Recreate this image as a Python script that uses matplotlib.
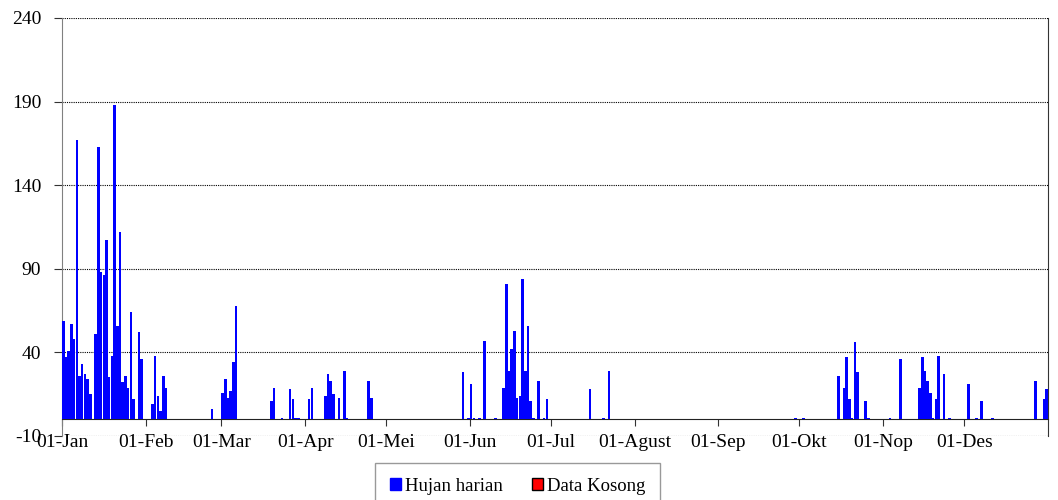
import matplotlib
matplotlib.use("Agg")
from matplotlib import pyplot as plt
from matplotlib.patches import Patch

plt.rcParams['font.family'] = ['Liberation Serif', 'DejaVu Serif']
plt.rcParams['axes.unicode_minus'] = False

# day of year (0 = 01-Jan) and daily rainfall (mm)
hari = [0, 1, 2, 3, 4, 5, 6, 7, 8, 9, 10, 12, 13, 14, 15, 16, 17, 18, 19, 20,
        21, 22, 23, 24, 25, 26, 28, 29,
        33, 34, 35, 36, 37, 38, 55, 59, 60, 61, 62, 63, 64, 77, 78, 81, 84, 85,
        86, 87, 91, 92, 97, 98, 99, 100, 102, 104, 105, 113, 114,
        148, 150, 151, 152, 154, 156, 160, 163, 164, 165, 166, 167, 168, 169,
        170, 171, 172, 173, 174, 176, 178, 179, 195, 200, 202,
        271, 274, 287, 289, 290, 291, 292, 293, 294, 297, 298, 306, 310, 317,
        318, 319, 320, 321, 322, 323, 324, 326, 328, 335, 338, 340, 344, 360,
        363, 364]
hujan = [59, 37, 41, 57, 48, 167, 26, 33, 27, 24, 15, 51, 163, 88, 86, 107, 25,
         38, 188, 56, 112, 22, 26, 19, 64, 12, 52, 36,
         9, 38, 14, 5, 26, 19, 6, 16, 24, 13, 17, 34, 68, 11, 19, 1, 18, 12,
         1, 1, 12, 19, 14, 27, 23, 15, 13, 29, 1, 23, 13,
         28, 1, 21, 1, 1, 47, 1, 19, 81, 29, 42, 53, 13, 14,
         84, 29, 56, 11, 1, 23, 1, 12, 18, 1, 29,
         1, 1, 26, 19, 37, 12, 1, 46, 28, 11, 1, 1, 36, 19,
         37, 29, 23, 16, 1, 12, 38, 27, 1, 21, 1, 11, 1, 23,
         12, 18]

bulan_hari = [0, 31, 59, 90, 120, 151, 181, 212, 243, 273, 304, 334]
bulan_label = ['01-Jan', '01-Feb', '01-Mar', '01-Apr', '01-Mei', '01-Jun',
               '01-Jul', '01-Agust', '01-Sep', '01-Okt', '01-Nop', '01-Des']
y_ticks = [-10, 40, 90, 140, 190, 240]

fig = plt.figure(figsize=(10.58, 5.0), dpi=100)
ax = fig.add_axes([62 / 1058, 64 / 500, 986 / 1058, 418 / 500])

ax.bar(hari, hujan, width=0.95, align='edge', color='#0000FF', edgecolor='none', zorder=3)

ax.set_xlim(0, 365)
ax.set_ylim(-10, 240)
ax.set_yticks(y_ticks)
ax.set_xticks(bulan_hari)
ax.set_xticklabels(bulan_label)

ax.yaxis.grid(True, linestyle=(0, (1, 1)), color='black', linewidth=0.8)
ax.set_axisbelow(True)

ax.spines['top'].set_visible(False)
ax.spines['right'].set_color('#333333')
ax.spines['right'].set_linewidth(0.8)
ax.spines['left'].set_color('#808080')
ax.spines['bottom'].set_position(('data', 0))
ax.spines['bottom'].set_color('#222222')

ax.tick_params(axis='y', direction='out', length=6, color='#333333', labelsize=14, pad=9)
ax.tick_params(axis='x', direction='out', length=5, color='#333333', labelsize=14, pad=5.5)

handles = [Patch(facecolor='#0000FF', edgecolor='#0000FF'),
           Patch(facecolor='#FF0000', edgecolor='black')]
leg = fig.legend(handles, ['Hujan harian', 'Data Kosong'], loc='upper center',
                 bbox_to_anchor=(0.489, 0.074), ncol=2, fontsize=13.5, fancybox=False,
                 handlelength=0.6, handleheight=0.6, handletextpad=0.2,
                 columnspacing=1.55, borderpad=0.8, borderaxespad=0)
leg.get_frame().set_edgecolor('#808080')
leg.get_frame().set_linewidth(1.0)

fig.savefig('out.png', dpi=100)
